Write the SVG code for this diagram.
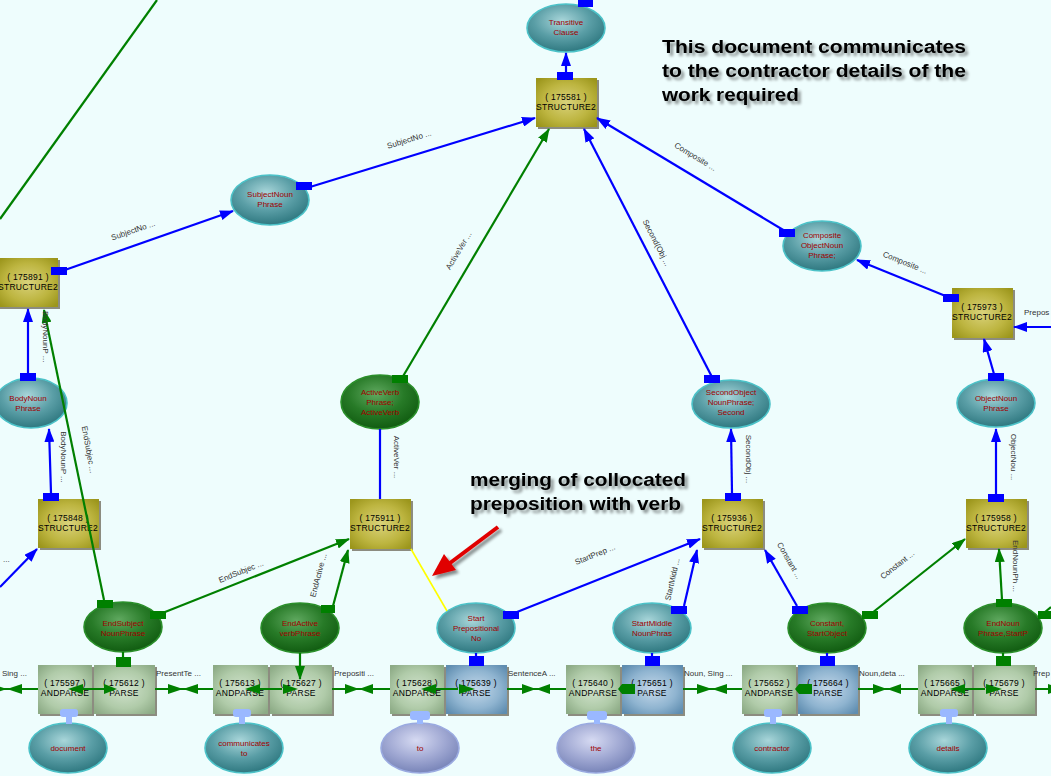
<svg xmlns="http://www.w3.org/2000/svg" width="1051" height="776" viewBox="0 0 1051 776">
<defs>
<style>
.bg{fill:#eefdfd}
.b{stroke:#0000ff;stroke-width:2.2;fill:none}
.g{stroke:#008000;stroke-width:2.2;fill:none}
.pb{fill:#0000ff}
.pg{fill:#008000}
.el-t{fill:url(#gt);stroke:#4cc2c8;stroke-width:1.6}
.el-g{fill:url(#gg);stroke:#2b8f2b;stroke-width:1.6}
.el-p{fill:url(#gp);stroke:#9aaae0;stroke-width:1.6}
.et{font-family:"Liberation Sans",Arial,sans-serif;font-size:8px;fill:#a00000;text-anchor:middle}
.bx-s{fill:url(#gs)}
.bx-a{fill:url(#ga)}
.bx-pb{fill:url(#gb)}
.sh{fill:#8c8c80}
.bt{font-family:"Liberation Sans",Arial,sans-serif;font-size:8.5px;fill:#000;text-anchor:middle;letter-spacing:0.3px}
.lb{font-family:"Liberation Sans",Arial,sans-serif;font-size:8px;fill:#333}
.lbc{font-family:"Liberation Sans",Arial,sans-serif;font-size:8px;fill:#333;text-anchor:middle}
.ann{font-family:"Liberation Sans",Arial,sans-serif;font-size:18px;font-weight:bold;fill:#000}
.wp{fill:#9ab8ff}
</style>
<radialGradient id="gt" cx="45%" cy="35%" r="65%">
<stop offset="0" stop-color="#a9d6da"/><stop offset="0.55" stop-color="#5a9ea6"/><stop offset="1" stop-color="#2f7880"/>
</radialGradient>
<radialGradient id="gg" cx="45%" cy="35%" r="65%">
<stop offset="0" stop-color="#5fa85f"/><stop offset="0.55" stop-color="#277a27"/><stop offset="1" stop-color="#115c11"/>
</radialGradient>
<radialGradient id="gp" cx="45%" cy="35%" r="65%">
<stop offset="0" stop-color="#d6daf2"/><stop offset="0.55" stop-color="#a2aad4"/><stop offset="1" stop-color="#7884b8"/>
</radialGradient>
<radialGradient id="gs" cx="50%" cy="50%" r="65%">
<stop offset="0" stop-color="#d9d27a"/><stop offset="0.6" stop-color="#bdb540"/><stop offset="1" stop-color="#9c961c"/>
</radialGradient>
<radialGradient id="ga" cx="50%" cy="50%" r="65%">
<stop offset="0" stop-color="#d0e2cc"/><stop offset="0.6" stop-color="#b0cba9"/><stop offset="1" stop-color="#8dab86"/>
</radialGradient>
<radialGradient id="gb" cx="50%" cy="50%" r="65%">
<stop offset="0" stop-color="#c4d8ea"/><stop offset="0.6" stop-color="#8fb4d0"/><stop offset="1" stop-color="#5f8db0"/>
</radialGradient>
<marker id="ab" viewBox="0 0 14 10" refX="13" refY="5" markerWidth="14" markerHeight="10" markerUnits="userSpaceOnUse" orient="auto"><path d="M0,0 L14,5 L0,10 z" fill="#0000ff"/></marker>
<marker id="ag" viewBox="0 0 14 10" refX="13" refY="5" markerWidth="14" markerHeight="10" markerUnits="userSpaceOnUse" orient="auto"><path d="M0,0 L14,5 L0,10 z" fill="#008000"/></marker>
<filter id="ds" x="-10%" y="-20%" width="130%" height="160%">
<feGaussianBlur in="SourceAlpha" stdDeviation="1.6"/><feOffset dx="3" dy="3" result="o"/>
<feComponentTransfer><feFuncA type="linear" slope="0.45"/></feComponentTransfer>
<feMerge><feMergeNode/><feMergeNode in="SourceGraphic"/></feMerge>
</filter>
</defs>
<rect class="bg" x="0" y="0" width="1051" height="776"/>

<g id="nodes">
<g id="n-transitive"><ellipse class="el-t" cx="566" cy="28" rx="39" ry="24"/><text class="et" x="566" y="25">Transitive</text><text class="et" x="566" y="35">Clause</text></g>
<g id="n-subjectnoun"><ellipse class="el-t" cx="270" cy="200" rx="39" ry="25"/><text class="et" x="270" y="197">SubjectNoun</text><text class="et" x="270" y="207">Phrase</text></g>
<g id="n-bodynoun"><ellipse class="el-t" cx="31" cy="403" rx="36" ry="25"/><text class="et" x="28" y="401">BodyNoun</text><text class="et" x="28" y="411">Phrase</text></g>
<g id="n-activeverb"><ellipse class="el-g" cx="380" cy="402" rx="39" ry="27"/><text class="et" x="380" y="395">ActiveVerb</text><text class="et" x="380" y="405">Phrase;</text><text class="et" x="380" y="415">ActiveVerb</text></g>
<g id="n-secondobject"><ellipse class="el-t" cx="731" cy="404" rx="39" ry="24"/><text class="et" x="731" y="395">SecondObject</text><text class="et" x="731" y="405">NounPhrase;</text><text class="et" x="731" y="415">Second</text></g>
<g id="n-composite"><ellipse class="el-t" cx="822" cy="246" rx="39" ry="25"/><text class="et" x="822" y="238">Composite</text><text class="et" x="822" y="248">ObjectNoun</text><text class="et" x="822" y="258">Phrase;</text></g>
<g id="n-objectnoun"><ellipse class="el-t" cx="996" cy="403" rx="39" ry="24"/><text class="et" x="996" y="401">ObjectNoun</text><text class="et" x="996" y="411">Phrase</text></g>
<g id="n-endsubject"><ellipse class="el-g" cx="123" cy="627" rx="39" ry="25"/><text class="et" x="123" y="626">EndSubject</text><text class="et" x="123" y="636">NounPhrase</text></g>
<g id="n-endactive"><ellipse class="el-g" cx="300" cy="628" rx="39" ry="25"/><text class="et" x="300" y="626">EndActive</text><text class="et" x="300" y="636">verbPhrase</text></g>
<g id="n-startprep"><ellipse class="el-t" cx="476" cy="628" rx="39" ry="25"/><text class="et" x="476" y="621">Start</text><text class="et" x="476" y="631">Prepositional</text><text class="et" x="476" y="641">No</text></g>
<g id="n-startmiddle"><ellipse class="el-t" cx="652" cy="628" rx="39" ry="25"/><text class="et" x="652" y="626">StartMiddle</text><text class="et" x="652" y="636">NounPhras</text></g>
<g id="n-constant"><ellipse class="el-g" cx="827" cy="628" rx="39" ry="25"/><text class="et" x="827" y="626">Constant,</text><text class="et" x="827" y="636">StartObject</text></g>
<g id="n-endnoun"><ellipse class="el-g" cx="1003" cy="628" rx="39" ry="25"/><text class="et" x="1003" y="626">EndNoun</text><text class="et" x="1003" y="636">Phrase,StartP</text></g>

<g id="w-document"><ellipse class="el-t" cx="68" cy="748" rx="39" ry="25"/><text class="et" x="68" y="751">document</text></g>
<g id="w-communicates"><ellipse class="el-t" cx="244" cy="748" rx="39" ry="25"/><text class="et" x="244" y="746">communicates</text><text class="et" x="244" y="756">to</text></g>
<g id="w-to"><ellipse class="el-p" cx="420" cy="748" rx="39" ry="25"/><text class="et" x="420" y="751">to</text></g>
<g id="w-the"><ellipse class="el-p" cx="596" cy="748" rx="39" ry="25"/><text class="et" x="596" y="751">the</text></g>
<g id="w-contractor"><ellipse class="el-t" cx="772" cy="748" rx="39" ry="25"/><text class="et" x="772" y="751">contractor</text></g>
<g id="w-details"><ellipse class="el-t" cx="948" cy="748" rx="39" ry="25"/><text class="et" x="948" y="751">details</text></g>

<g id="s-175581"><rect class="sh" x="538" y="80" width="61" height="49"/><rect class="bx-s" x="536" y="78" width="61" height="49"/><text class="bt" x="566" y="100">( 175581 )</text><text class="bt" x="566" y="110">STRUCTURE2</text></g>
<g id="s-175891"><rect class="sh" x="0" y="260" width="60" height="49"/><rect class="bx-s" x="-2" y="258" width="60" height="49"/><text class="bt" x="28" y="280">( 175891 )</text><text class="bt" x="28" y="290">STRUCTURE2</text></g>
<g id="s-175848"><rect class="sh" x="40" y="501" width="61" height="49"/><rect class="bx-s" x="38" y="499" width="61" height="49"/><text class="bt" x="68" y="521">( 175848 )</text><text class="bt" x="68" y="531">STRUCTURE2</text></g>
<g id="s-175911"><rect class="sh" x="352" y="501" width="61" height="50"/><rect class="bx-s" x="350" y="499" width="61" height="50"/><text class="bt" x="380" y="521">( 175911 )</text><text class="bt" x="380" y="531">STRUCTURE2</text></g>
<g id="s-175936"><rect class="sh" x="704" y="501" width="61" height="49"/><rect class="bx-s" x="702" y="499" width="61" height="49"/><text class="bt" x="732" y="521">( 175936 )</text><text class="bt" x="732" y="531">STRUCTURE2</text></g>
<g id="s-175973"><rect class="sh" x="954" y="290" width="61" height="50"/><rect class="bx-s" x="952" y="288" width="61" height="50"/><text class="bt" x="982" y="310">( 175973 )</text><text class="bt" x="982" y="320">STRUCTURE2</text></g>
<g id="s-175958"><rect class="sh" x="968" y="501" width="61" height="49"/><rect class="bx-s" x="966" y="499" width="61" height="49"/><text class="bt" x="996" y="521">( 175958 )</text><text class="bt" x="996" y="531">STRUCTURE2</text></g>

<g id="a-175597"><rect class="sh" x="40" y="667" width="54" height="49"/><rect class="bx-a" x="38" y="665" width="54" height="49"/><text class="bt" x="65" y="686">( 175597 )</text><text class="bt" x="65" y="696">ANDPARSE</text></g>
<g id="p-175612"><rect class="sh" x="96" y="667" width="61" height="49"/><rect class="bx-a" x="94" y="665" width="61" height="49"/><text class="bt" x="124" y="686">( 175612 )</text><text class="bt" x="124" y="696">PARSE</text></g>
<g id="a-175613"><rect class="sh" x="215" y="667" width="55" height="49"/><rect class="bx-a" x="213" y="665" width="55" height="49"/><text class="bt" x="240" y="686">( 175613 )</text><text class="bt" x="240" y="696">ANDPARSE</text></g>
<g id="p-175627"><rect class="sh" x="272" y="667" width="62" height="49"/><rect class="bx-a" x="270" y="665" width="62" height="49"/><text class="bt" x="301" y="686">( 175627 )</text><text class="bt" x="301" y="696">PARSE</text></g>
<g id="a-175628"><rect class="sh" x="392" y="667" width="54" height="49"/><rect class="bx-a" x="390" y="665" width="54" height="49"/><text class="bt" x="417" y="686">( 175628 )</text><text class="bt" x="417" y="696">ANDPARSE</text></g>
<g id="p-175639"><rect class="sh" x="448" y="667" width="61" height="49"/><rect class="bx-pb" x="446" y="665" width="61" height="49"/><text class="bt" x="476" y="686">( 175639 )</text><text class="bt" x="476" y="696">PARSE</text></g>
<g id="a-175640"><rect class="sh" x="568" y="667" width="54" height="49"/><rect class="bx-a" x="566" y="665" width="54" height="49"/><text class="bt" x="593" y="686">( 175640 )</text><text class="bt" x="593" y="696">ANDPARSE</text></g>
<g id="p-175651"><rect class="sh" x="624" y="667" width="61" height="49"/><rect class="bx-pb" x="622" y="665" width="61" height="49"/><text class="bt" x="652" y="686">( 175651 )</text><text class="bt" x="652" y="696">PARSE</text></g>
<g id="a-175652"><rect class="sh" x="744" y="667" width="54" height="49"/><rect class="bx-a" x="742" y="665" width="54" height="49"/><text class="bt" x="769" y="686">( 175652 )</text><text class="bt" x="769" y="696">ANDPARSE</text></g>
<g id="p-175664"><rect class="sh" x="800" y="667" width="60" height="49"/><rect class="bx-pb" x="798" y="665" width="60" height="49"/><text class="bt" x="828" y="686">( 175664 )</text><text class="bt" x="828" y="696">PARSE</text></g>
<g id="a-175665"><rect class="sh" x="920" y="667" width="54" height="49"/><rect class="bx-a" x="918" y="665" width="54" height="49"/><text class="bt" x="945" y="686">( 175665 )</text><text class="bt" x="945" y="696">ANDPARSE</text></g>
<g id="p-175679"><rect class="sh" x="976" y="667" width="61" height="49"/><rect class="bx-a" x="974" y="665" width="61" height="49"/><text class="bt" x="1004" y="686">( 175679 )</text><text class="bt" x="1004" y="696">PARSE</text></g>
</g>

<g id="connectors">
<path class="g" d="M157,0 L0,219"/>
<path class="b" d="M566,73 L566,53" marker-end="url(#ab)"/>
<rect class="pb" x="557" y="72" width="16" height="8"/>
<rect class="pb" x="578" y="0" width="15" height="7"/>
<path class="b" d="M310,187 L535,118" marker-end="url(#ab)"/>
<rect class="pb" x="296" y="182" width="16" height="8"/>
<path class="b" d="M62,271 L233,211" marker-end="url(#ab)"/>
<rect class="pb" x="51" y="267" width="16" height="8"/>
<path class="g" d="M402,378 L549,129" marker-end="url(#ag)"/>
<rect class="pg" x="392" y="375" width="16" height="8"/>
<path class="b" d="M712,377 L584,129" marker-end="url(#ab)"/>
<rect class="pb" x="704" y="375" width="16" height="8"/>
<path class="b" d="M785,231 L597,118" marker-end="url(#ab)"/>
<rect class="pb" x="779" y="229" width="16" height="8"/>
<path class="b" d="M948,297 L857,260" marker-end="url(#ab)"/>
<rect class="pb" x="943" y="294" width="16" height="8"/>
<path class="b" d="M1051,327 L1014,327" marker-end="url(#ab)"/>
<path class="b" d="M994,374 L984,339" marker-end="url(#ab)"/>
<rect class="pb" x="988" y="373" width="16" height="8"/>
<path class="b" d="M996,494 L996,429" marker-end="url(#ab)"/>
<rect class="pb" x="988" y="494" width="16" height="8"/>
<path class="b" d="M732,493 L731,429" marker-end="url(#ab)"/>
<rect class="pb" x="725" y="493" width="16" height="8"/>
<path class="b" d="M380,429 L380,499"/>
<path class="b" d="M51,493 L49,429" marker-end="url(#ab)"/>
<rect class="pb" x="43" y="493" width="16" height="8"/>
<path class="b" d="M28,373 L28,309" marker-end="url(#ab)"/>
<rect class="pb" x="20" y="373" width="16" height="8"/>
<path class="b" d="M0,587 L37,549" marker-end="url(#ab)"/>
<path class="g" d="M104,600 L44,310" marker-end="url(#ag)"/>
<rect class="pg" x="97" y="600" width="16" height="8"/>
<path class="g" d="M160,614 L349,539" marker-end="url(#ag)"/>
<rect class="pg" x="150" y="611" width="16" height="8"/>
<path class="g" d="M333,606 L348,550" marker-end="url(#ag)"/>
<rect class="pg" x="321" y="605" width="14" height="8"/>
<path d="M411,549 L447,611" stroke="#ffff00" stroke-width="1.6" fill="none"/>
<path class="b" d="M512,614 L700,539" marker-end="url(#ab)"/>
<rect class="pb" x="503" y="611" width="16" height="8"/>
<path class="b" d="M684,606 L697,550" marker-end="url(#ab)"/>
<rect class="pb" x="671" y="606" width="16" height="8"/>
<path class="b" d="M797,606 L765,550" marker-end="url(#ab)"/>
<rect class="pb" x="792" y="606" width="16" height="8"/>
<path class="g" d="M872,613 L965,539" marker-end="url(#ag)"/>
<rect class="pg" x="862" y="611" width="16" height="8"/>
<path class="g" d="M1002,600 L999,549" marker-end="url(#ag)"/>
<rect class="pg" x="996" y="599" width="16" height="8"/>
<path class="g" d="M1045,612 L1051,607"/>
<rect class="pg" x="1038" y="611" width="13" height="8"/>

<path class="g" d="M123,652 L123,665"/><rect class="pg" x="116" y="657" width="15" height="10"/>
<path class="g" d="M300,653 L300,679" marker-end="url(#ag)"/>
<path class="b" d="M476,653 L476,665"/><rect class="pb" x="469" y="656" width="15" height="10"/>
<path class="b" d="M652,653 L652,665"/><rect class="pb" x="645" y="656" width="15" height="10"/>
<path class="b" d="M827,653 L827,665"/><rect class="pb" x="820" y="656" width="15" height="10"/>
<path class="g" d="M1003,653 L1003,665"/><rect class="pg" x="996" y="656" width="15" height="10"/>

<g id="wordports">
<rect class="wp" x="60" y="709" width="18" height="8" rx="3"/><rect class="wp" x="66" y="715" width="6" height="9"/>
<rect class="wp" x="233" y="709" width="18" height="8" rx="3"/><rect class="wp" x="239" y="715" width="6" height="9"/>
<rect class="wp" x="410" y="711" width="20" height="9" rx="3"/><rect class="wp" x="417" y="718" width="6" height="6"/>
<rect class="wp" x="587" y="711" width="20" height="9" rx="3"/><rect class="wp" x="594" y="718" width="6" height="6"/>
<rect class="wp" x="764" y="709" width="18" height="8" rx="3"/><rect class="wp" x="770" y="715" width="6" height="9"/>
<rect class="wp" x="940" y="709" width="18" height="8" rx="3"/><rect class="wp" x="946" y="715" width="6" height="9"/>
</g>

<g id="parse-row" fill="#008000">
<path class="g" d="M0,689 L38,689 M155,689 L213,689 M332,689 L390,689 M507,689 L566,689 M683,689 L742,689 M858,689 L918,689 M1035,689 L1051,689"/>
<polygon points="-8,684 -8,694 7,689 22,684 22,694 7,689"/>
<polygon points="168,684 168,694 183,689 198,684 198,694 183,689"/>
<polygon points="345,684 345,694 359,689 373,684 373,694 359,689"/>
<polygon points="522,684 522,694 536,689 550,684 550,694 536,689"/>
<polygon points="697,684 697,694 712,689 727,684 727,694 712,689"/>
<polygon points="873,684 873,694 887,689 901,684 901,694 887,689"/>
<polygon points="1048,684 1048,694 1062,689"/>
<path class="g" d="M83,689 L104,689 M260,689 L282,689 M436,689 L458,689 M963,689 L985,689"/>
<polygon points="68,689 83,684 83,694"/><polygon points="117,689 104,684 104,694"/>
<polygon points="245,689 260,684 260,694"/><polygon points="298,689 283,684 283,694"/>
<polygon points="421,689 436,684 436,694"/><polygon points="475,689 459,684 459,694"/>
<polygon points="618,689 622,684 635,684 635,694 622,694"/>
<polygon points="795,689 799,684 812,684 812,694 799,694"/>
<polygon points="950,689 965,684 965,694"/><polygon points="1002,689 986,684 986,694"/>
</g>

<g id="edge-labels">
<text class="lbc" transform="translate(410,142) rotate(-17)">SubjectNo ...</text>
<text class="lbc" transform="translate(134,233) rotate(-19)">SubjectNo ...</text>
<text class="lbc" transform="translate(461,252) rotate(-59)">ActiveVer ...</text>
<text class="lbc" transform="translate(654,244) rotate(63)">Second(Obj ...</text>
<text class="lbc" transform="translate(694,159) rotate(31)">Composite ...</text>
<text class="lbc" transform="translate(904,265) rotate(22)">Composite ...</text>
<text class="lb" x="1024" y="315">Prepos</text>
<text class="lbc" transform="translate(394,457) rotate(90)">ActiveVer ...</text>
<text class="lbc" transform="translate(746,459) rotate(90)">SecondObj ...</text>
<text class="lbc" transform="translate(1011,457) rotate(90)">ObjectNou ...</text>
<text class="lb" transform="translate(43,311) rotate(90)">BodyNounP ...</text>
<text class="lbc" transform="translate(61,457) rotate(90)">BodyNounP ...</text>
<text class="lbc" transform="translate(86,450) rotate(80)">EndSubjec ...</text>
<text class="lbc" transform="translate(242,574) rotate(-22)">EndSubjec ...</text>
<text class="lbc" transform="translate(321,576) rotate(-75)">EndActive ...</text>
<text class="lbc" transform="translate(596,557) rotate(-22)">StartPrep ...</text>
<text class="lbc" transform="translate(675,580) rotate(-77)">StartMidd ...</text>
<text class="lbc" transform="translate(787,562) rotate(60)">Constant ...</text>
<text class="lbc" transform="translate(899,567) rotate(-38)">Constant ...</text>
<text class="lb" transform="translate(1013,540) rotate(90)">EndNounPh ...</text>
<text class="lb" x="3" y="562">...</text>
<text class="lb" x="2" y="676">Sing ...</text>
<text class="lb" x="156" y="676">PresentTe ...</text>
<text class="lb" x="334" y="676">Prepositi ...</text>
<text class="lb" x="508" y="676">SentenceA ...</text>
<text class="lb" x="684" y="676">Noun, Sing ...</text>
<text class="lb" x="859" y="676">Noun,deta ...</text>
<text class="lb" x="1033" y="676">Prep</text>
</g>
</g>

<g id="annotations" filter="url(#ds)">
<text class="ann" x="662" y="53" textLength="304" lengthAdjust="spacingAndGlyphs">This document communicates</text>
<text class="ann" x="662" y="77" textLength="304" lengthAdjust="spacingAndGlyphs">to the contractor details of the</text>
<text class="ann" x="662" y="101" textLength="137" lengthAdjust="spacingAndGlyphs">work required</text>
<text class="ann" x="470" y="486" textLength="216" lengthAdjust="spacingAndGlyphs">merging of collocated</text>
<text class="ann" x="470" y="510" textLength="211" lengthAdjust="spacingAndGlyphs">preposition with verb</text>
<path d="M498,527 L450,563" stroke="#e00000" stroke-width="4" fill="none"/>
<polygon points="432,576 456,570 444,554" fill="#e00000"/>
</g>
</svg>
